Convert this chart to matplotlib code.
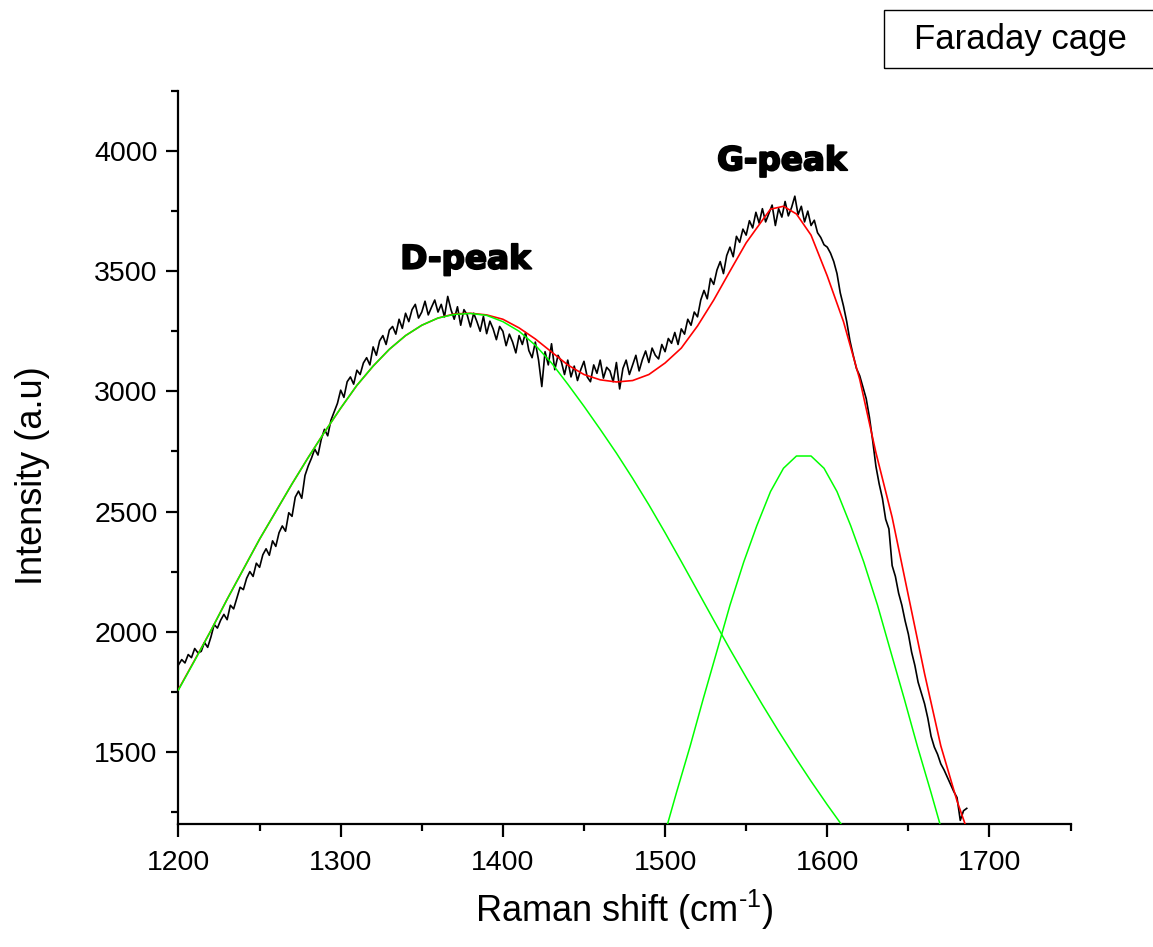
import numpy as np
import matplotlib
matplotlib.use("Agg")
import matplotlib.pyplot as plt
import matplotlib.patheffects as pe
from matplotlib.patches import Rectangle
from matplotlib.ticker import MultipleLocator

plt.rcParams['font.family'] = ['Liberation Sans', 'DejaVu Sans']
plt.rcParams['mathtext.fontset'] = 'custom'
plt.rcParams['mathtext.rm'] = 'Liberation Sans'

# measured Raman spectrum, 2 cm-1 steps from 1200 to 1686
spec_x = list(range(1200, 1688, 2))
spec_y = [
    1862, 1884, 1870, 1905, 1892, 1930, 1912, 1918, 1955, 1935,
    1978, 2030, 2015, 2048, 2072, 2050, 2110, 2095, 2140, 2185,
    2175, 2222, 2250, 2230, 2285, 2268, 2320, 2345, 2318, 2378,
    2355, 2412, 2440, 2418, 2495, 2480, 2560, 2585, 2555, 2650,
    2690, 2722, 2760, 2735, 2800, 2842, 2815, 2880, 2915, 2950,
    3005, 2975, 3040, 3060, 3030, 3088, 3070, 3118, 3140, 3110,
    3185, 3150, 3210, 3232, 3195, 3255, 3270, 3238, 3300, 3262,
    3325, 3290, 3340, 3362, 3305, 3330, 3375, 3318, 3350, 3380,
    3330, 3362, 3310, 3395, 3340, 3300, 3352, 3275, 3340, 3318,
    3268, 3325, 3290, 3250, 3312, 3240, 3292, 3260, 3215, 3270,
    3250, 3190, 3238, 3205, 3160, 3232, 3195, 3245, 3170, 3140,
    3205, 3130, 3020, 3165, 3110, 3198, 3090, 3150, 3125, 3070,
    3130, 3060, 3105, 3045, 3090, 3125, 3060, 3040, 3110, 3075,
    3130, 3055, 3100, 3085, 3040, 3120, 3010, 3095, 3130, 3070,
    3110, 3150, 3085, 3132, 3168, 3120, 3180, 3150, 3135, 3195,
    3165, 3220, 3200, 3245, 3195, 3260, 3238, 3300, 3275, 3330,
    3310, 3380, 3420, 3385, 3470, 3445, 3505, 3540, 3490, 3565,
    3600, 3560, 3645, 3620, 3675, 3650, 3710, 3680, 3745, 3700,
    3760, 3705, 3740, 3775, 3690, 3760, 3725, 3790, 3730, 3765,
    3812, 3735, 3770, 3705, 3750, 3690, 3712, 3660, 3640, 3610,
    3600, 3575, 3540, 3490, 3410, 3355, 3290, 3210, 3150, 3095,
    3065, 3018, 2970, 2892, 2795, 2688, 2615, 2555, 2468, 2428,
    2275, 2230, 2160, 2110, 2045, 1990, 1915, 1860, 1790, 1745,
    1700, 1640, 1565, 1520, 1490, 1450, 1425, 1395, 1365, 1335,
    1310, 1215, 1255, 1265,
]

# cumulative fit (red)
fit_x = [1200, 1210, 1220, 1230, 1240, 1250, 1260, 1270, 1280, 1290,
         1300, 1310, 1320, 1330, 1340, 1350, 1360, 1370, 1380, 1390,
         1400, 1410, 1420, 1430, 1440, 1450, 1460, 1470, 1480, 1490,
         1500, 1510, 1520, 1530, 1540, 1550, 1560, 1565, 1573, 1581,
         1590, 1600, 1610, 1620, 1630, 1640, 1650, 1660, 1670, 1680, 1686]
fit_y = [1760, 1882, 2005, 2135, 2260, 2385, 2500, 2615, 2725, 2830,
         2930, 3025, 3105, 3175, 3232, 3275, 3305, 3322, 3325, 3318,
         3300, 3264, 3218, 3164, 3110, 3070, 3048, 3039, 3045, 3070,
         3118, 3180, 3272, 3380, 3500, 3618, 3712, 3758, 3770, 3738,
         3650, 3480, 3290, 3050, 2745, 2476, 2150, 1825, 1525, 1296, 1180]

# D band component (green)
d_x = [1200, 1210, 1220, 1230, 1240, 1250, 1260, 1270, 1280, 1290,
       1300, 1310, 1320, 1330, 1340, 1350, 1360, 1370, 1380, 1390,
       1400, 1410, 1420, 1430, 1440, 1450, 1460, 1470, 1480, 1490,
       1500, 1510, 1520, 1530, 1540, 1550, 1560, 1570, 1580, 1590,
       1600, 1610]
d_y = [1758, 1880, 2005, 2135, 2260, 2385, 2500, 2615, 2725, 2830,
       2930, 3025, 3105, 3175, 3232, 3275, 3305, 3320, 3324, 3316,
       3290, 3250, 3192, 3118, 3030, 2938, 2842, 2743, 2638, 2528,
       2412, 2292, 2170, 2048, 1927, 1810, 1696, 1586, 1480, 1378,
       1280, 1186]

# G band component (green)
g_x = [1499, 1507, 1515.5, 1523.5, 1532, 1540, 1548.5, 1556.5, 1565, 1573, 1581,
       1590, 1598, 1606, 1614.5, 1622.5, 1631, 1639, 1647.5, 1655.5, 1664, 1672]
g_y = [1140, 1330, 1525, 1720, 1920, 2110, 2290, 2440, 2583, 2680, 2731,
       2731, 2680, 2583, 2440, 2290, 2110, 1920, 1720, 1525, 1330, 1140]

fig = plt.figure(figsize=(11.53, 9.47), dpi=100)
ax = fig.add_axes([0.1548, 0.1299, 0.9285 - 0.1548, 0.904 - 0.1299])

ax.plot(spec_x, spec_y, color="black", lw=1.2, zorder=2)
ax.plot(fit_x, fit_y, color="#ff0000", lw=1.2, zorder=3)
ax.plot(d_x, d_y, color="#00ff00", lw=1.1, zorder=4)
ax.plot(g_x, g_y, color="#00ff00", lw=1.1, zorder=4)

ax.set_xlim(1200, 1750)
ax.set_ylim(1200, 4250)
ax.xaxis.set_major_locator(MultipleLocator(100))
ax.xaxis.set_minor_locator(MultipleLocator(50))
ax.yaxis.set_major_locator(MultipleLocator(500))
ax.yaxis.set_minor_locator(MultipleLocator(250))

for s in ["top", "right"]:
    ax.spines[s].set_visible(False)
for s in ["left", "bottom"]:
    ax.spines[s].set_linewidth(1.6)

ax.tick_params(which="major", direction="out", length=9, width=1.6, labelsize=20.5)
ax.tick_params(which="minor", direction="out", length=5, width=1.6)
ax.tick_params(axis="y", which="major", pad=6)
ax.tick_params(axis="x", which="major", pad=10)
ax.set_xticks([1200, 1300, 1400, 1500, 1600, 1700])

ax.set_xlabel("Raman shift (cm$^{\\text{-1}}$)", fontsize=26, va="center")
ax.xaxis.set_label_coords(0.5, -0.117)
ax.set_ylabel("Intensity (a.u)", fontsize=26, va="center")
ax.yaxis.set_label_coords(-0.164, 0.475)

stroke = [pe.withStroke(linewidth=1.4, foreground="black")]
ax.text(1377, 3550, "D-peak", fontsize=23.5, fontweight="bold",
        family="DejaVu Sans", ha="center", va="center", path_effects=stroke)
ax.text(1572, 3960, "G-peak", fontsize=23.5, fontweight="bold",
        family="DejaVu Sans", ha="center", va="center", path_effects=stroke)

fig.patches.append(Rectangle((884 / 1153, 1 - 68 / 947), 0.3, 58 / 947,
                             transform=fig.transFigure, fill=False,
                             edgecolor="black", lw=1.0))
fig.text(1020 / 1153, 1 - 40 / 947, "Faraday cage", fontsize=25,
         ha="center", va="center")

plt.savefig("out.png", dpi=100)
